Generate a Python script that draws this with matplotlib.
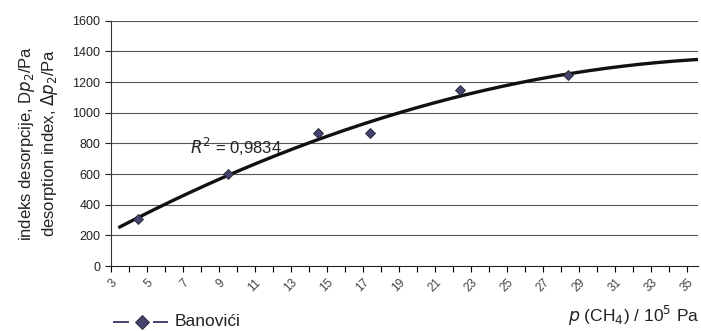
import numpy as np
import matplotlib.pyplot as plt
from matplotlib.lines import Line2D

plt.rcParams['font.family'] = ['Liberation Sans', 'DejaVu Sans']

# measured points (Banovići)
p_ch4 = [4.5, 9.5, 14.5, 17.4, 22.4, 28.4]
dp2 = [310, 600, 865, 865, 1150, 1245]
r2_text = "$R^2$ = 0,9834"
xticks = list(range(3, 36, 2))
yticks = list(range(0, 1601, 200))

# second order trendline through the points
coef = np.polyfit(p_ch4, dp2, 2)
xfit = np.linspace(3.5, 35.5, 200)
yfit = np.polyval(coef, xfit)

W, H = 701, 331
fig = plt.figure(figsize=(W / 100, H / 100), dpi=100)
ax = fig.add_axes([0.158, 0.196, 0.838, 0.7415])

for y in yticks[1:]:
    ax.axhline(y, color='#555555', lw=0.8, zorder=1)

ax.plot(xfit, yfit, color='#111111', lw=2.4, zorder=3)
ax.plot(p_ch4, dp2, linestyle='none', marker='D', ms=5.5,
        mfc='#44446e', mec='#222233', mew=0.6, zorder=4)

ax.text(7.4, 775, r2_text, fontsize=12, color='#222222', va='center', ha='left',
        zorder=5)

ax.set_xlim(3, 35.6)
ax.set_ylim(0, 1600)
ax.set_yticks(yticks)
ax.set_xticks(xticks)
ax.set_xticks(range(3, 36), minor=True)
ax.set_xticklabels([str(v) for v in xticks], rotation=45, ha='right', va='top',
                   rotation_mode='anchor', fontsize=8.5, color='#444444')
ax.tick_params(axis='y', labelsize=9, length=4, width=0.8, colors='#222222')
ax.tick_params(axis='x', which='both', length=4, width=0.8, direction='out')
for side in ['top', 'right']:
    ax.spines[side].set_visible(False)
ax.spines['left'].set_color('#333333')
ax.spines['bottom'].set_color('#222222')

ax.set_ylabel("indeks desorpcije, D$p_2$/Pa\ndesorption index, $\\Delta p_2$/Pa",
              fontsize=12, linespacing=1.1, color='#222222', labelpad=9)

fig.text(0.997, 0.008, "$p$ (CH$_4$) / 10$^5$ Pa", ha='right', va='bottom',
         fontsize=12.5, color='#222222')

# legend entry drawn by hand: dash, diamond, dash, name
ly = 1 - 322 / H
leg_col = '#44446e'
for x0, x1 in [(114, 128), (154, 167)]:
    fig.add_artist(Line2D([x0 / W, x1 / W], [ly, ly], color=leg_col, lw=1.4))
fig.add_artist(Line2D([141.5 / W], [ly], marker='D', ms=7, mfc=leg_col,
                      mec='#222233', mew=0.6, ls='none'))
fig.text(175 / W, ly, "Banovići", fontsize=12.5, color='#222222', va='center', ha='left')

fig.savefig('out.png', dpi=100)
